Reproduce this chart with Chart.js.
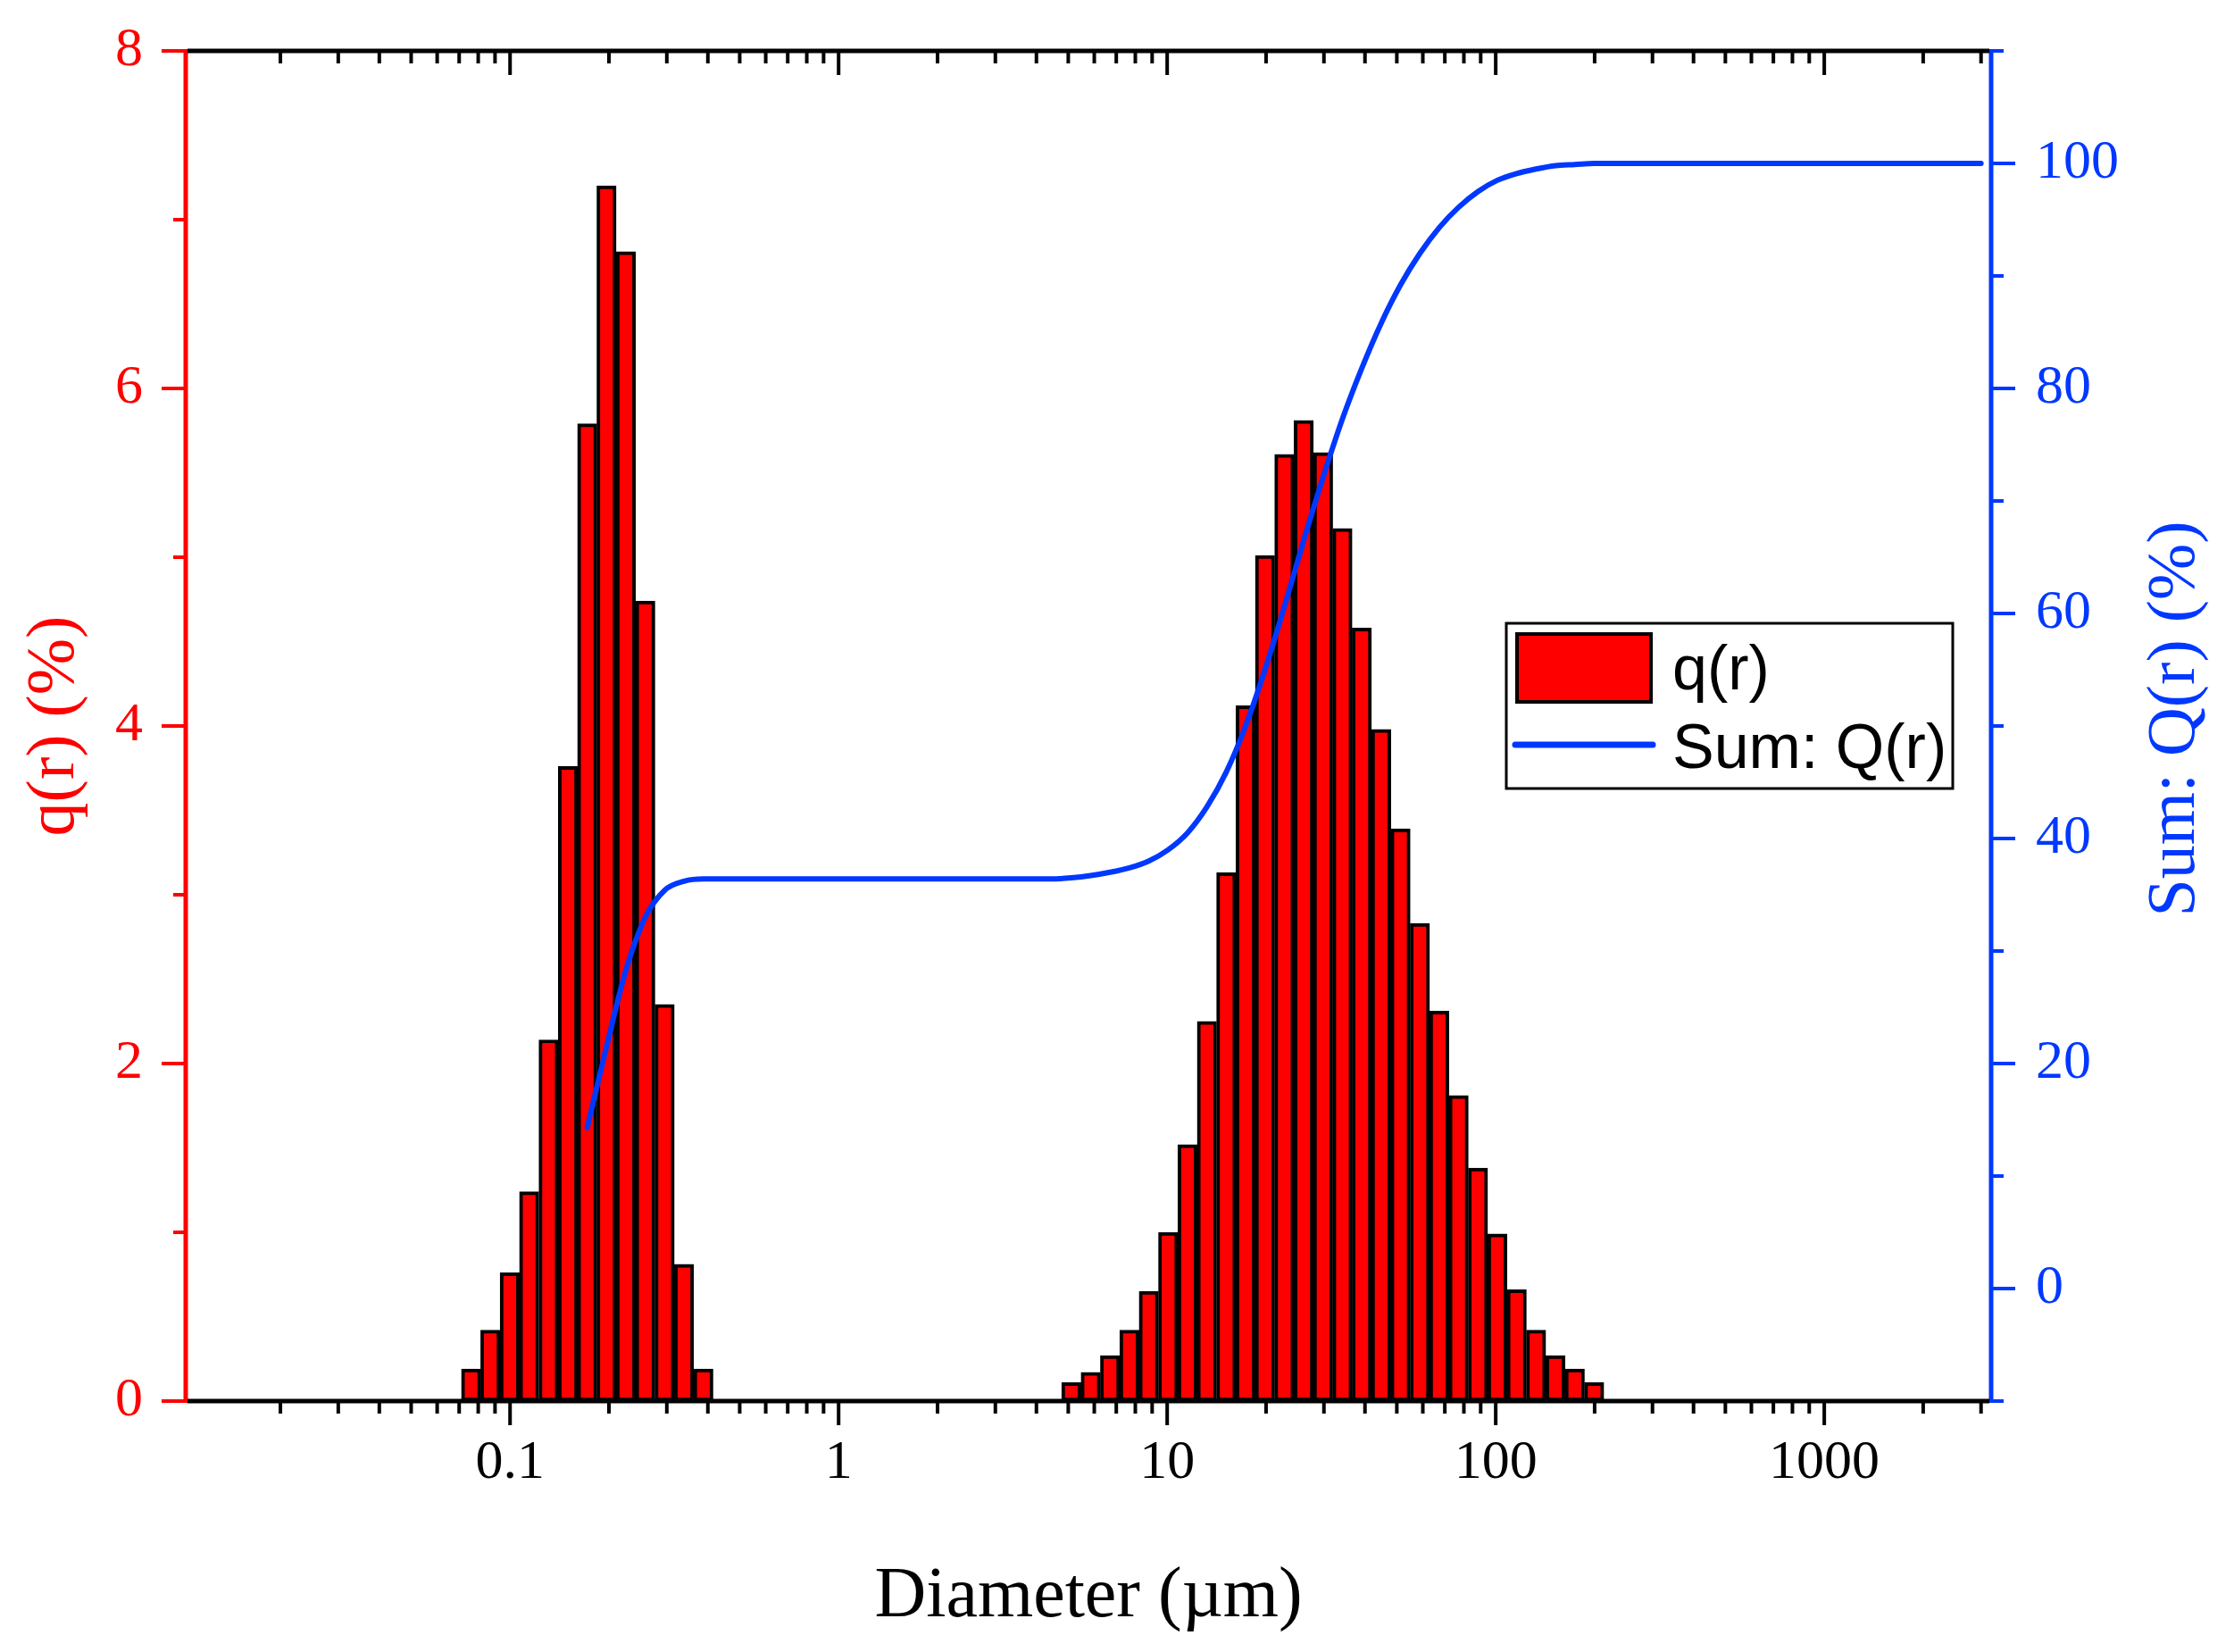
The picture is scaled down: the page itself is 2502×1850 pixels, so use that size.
<!DOCTYPE html>
<html>
<head>
<meta charset="utf-8">
<script src="https://cdn.jsdelivr.net/npm/chart.js@4.4.1/dist/chart.umd.min.js"></script>
<style>
  html, body { margin: 0; padding: 0; background: #fff; }
  canvas { display: block; }
</style>
</head>
<body>
<canvas id="psd" width="2502" height="1850"></canvas>
<script>
// channel diameters (um) of the bars and their q(r) values (%)
const qDiameters = [0.0761, 0.0871, 0.0998, 0.1143, 0.1310, 0.1500, 0.1717, 0.1966, 0.2252, 0.2580, 0.2955, 0.3384, 0.3876,
  5.1088, 5.8514, 6.7019, 7.6760, 8.7917, 10.0696, 11.5333, 13.2096, 15.1297, 17.3288,
  19.8475, 22.7324, 26.0366, 29.8211, 34.1557, 39.1202, 44.8064, 51.3192, 58.7787, 67.3224,
  77.1078, 88.3154, 101.152, 115.8548, 132.6947, 151.9822, 174.0732, 199.3752];
const qValues = [0.19, 0.42, 0.76, 1.24, 2.14, 3.76, 5.79, 7.20, 6.81, 4.74, 2.35, 0.81, 0.19,
  0.11, 0.17, 0.27, 0.42, 0.65, 1.00, 1.52, 2.25, 3.13, 4.12,
  5.01, 5.61, 5.81, 5.62, 5.17, 4.58, 3.98, 3.39, 2.83, 2.31,
  1.81, 1.38, 0.99, 0.66, 0.42, 0.27, 0.19, 0.11];

// cumulative curve Q(r)
const sumDiameters = [0.1717, 0.1966, 0.2252, 0.2580, 0.2955, 0.3384, 0.3876, 0.4440, 1.0024, 4.4605,
  5.1088, 5.8514, 6.7019, 7.6760, 8.7917, 10.0696, 11.5333, 13.2096, 15.1297, 17.3288,
  19.8475, 22.7324, 26.0366, 29.8211, 34.1557, 39.1202, 44.8064, 51.3192, 58.7787, 67.3224,
  77.1078, 88.3154, 101.152, 115.8548, 132.6947, 151.9822, 174.0732, 199.3752, 228.355, 3000];
const sumValues = [14.3, 21.5, 28.3, 33.0, 35.4, 36.2, 36.4, 36.4, 36.4, 36.4,
  36.5, 36.7, 37.0, 37.4, 38.0, 39.0, 40.5, 42.8, 45.9, 50.0,
  55.0, 60.6, 66.5, 72.1, 77.3, 81.8, 85.8, 89.2, 92.0, 94.3,
  96.1, 97.5, 98.5, 99.1, 99.5, 99.8, 99.9, 100, 100, 100];

// tick labels
const xTicks = [0.1, 1, 10, 100, 1000];
const yTicks = [0, 2, 4, 6, 8];
const y1Ticks = [0, 20, 40, 60, 80, 100];
const yMinor = [1, 3, 5, 7];
const y1Minor = [-10, 10, 30, 50, 70, 90, 110];

const RED = '#ff0000';
const BLUE = '#0038ff';
const serif = 'Liberation Serif';

// decade minor ticks 2..9
const xMinor = [];
[0.01, 0.1, 1, 10, 100, 1000].forEach(d => {
  for (let m = 2; m <= 9; m++) xMinor.push(d * m);
});

function line(ctx, x0, y0, x1, y1) {
  ctx.beginPath();
  ctx.moveTo(x0, y0);
  ctx.lineTo(x1, y1);
  ctx.stroke();
}

// keep the plot box fixed: no extra room for the end labels
function fixBox(size) {
  return s => {
    if (s.isHorizontal()) s.height = size; else s.width = size;
    s.paddingTop = 0; s.paddingBottom = 0; s.paddingLeft = 0; s.paddingRight = 0;
  };
}

const frame = {
  id: 'frame',
  afterDraw(chart) {
    const { ctx, chartArea: a, scales: { x, y, y1 } } = chart;
    const major = 27, minor = 14;
    ctx.save();
    ctx.lineCap = 'butt';
    ctx.lineWidth = 4;

    // x ticks, bottom outward and top inward
    ctx.strokeStyle = '#000';
    xMinor.forEach(v => {
      if (v < x.min || v > x.max) return;
      const px = x.getPixelForValue(v);
      line(ctx, px, a.bottom, px, a.bottom + minor);
      line(ctx, px, a.top, px, a.top + minor);
    });
    xTicks.forEach(v => {
      const px = x.getPixelForValue(v);
      line(ctx, px, a.bottom, px, a.bottom + major);
      line(ctx, px, a.top, px, a.top + major);
    });

    // left axis
    ctx.strokeStyle = RED;
    yTicks.forEach(v => { const py = y.getPixelForValue(v); line(ctx, a.left, py, a.left - major, py); });
    yMinor.forEach(v => { const py = y.getPixelForValue(v); line(ctx, a.left, py, a.left - minor, py); });
    ctx.lineWidth = 5;
    line(ctx, a.left, a.top - 2, a.left, a.bottom + 2);

    // right axis
    ctx.lineWidth = 4;
    ctx.strokeStyle = BLUE;
    y1Ticks.forEach(v => { const py = y1.getPixelForValue(v); line(ctx, a.right, py, a.right + major, py); });
    y1Minor.forEach(v => { const py = y1.getPixelForValue(v); line(ctx, a.right, py, a.right + minor, py); });
    ctx.lineWidth = 5;
    line(ctx, a.right, a.top - 2, a.right, a.bottom + 2);

    // top and bottom frame
    ctx.strokeStyle = '#000';
    line(ctx, a.left + 2, a.top, a.right - 2, a.top);
    line(ctx, a.left + 2, a.bottom, a.right - 2, a.bottom);

    // axis titles
    ctx.textAlign = 'center';
    ctx.textBaseline = 'alphabetic';
    ctx.fillStyle = '#000';
    ctx.font = '80px "' + serif + '"';
    ctx.fillText('Diameter (\u00b5m)', (a.left + a.right) / 2, 1810);

    ctx.font = '76px "' + serif + '"';
    ctx.save();
    ctx.translate(82, (a.top + a.bottom) / 2);
    ctx.rotate(-Math.PI / 2);
    ctx.fillStyle = RED;
    ctx.fillText('q(r) (%)', 0, 0);
    ctx.restore();

    ctx.save();
    ctx.translate(2457, 805);
    ctx.rotate(-Math.PI / 2);
    ctx.fillStyle = BLUE;
    ctx.fillText('Sum: Q(r) (%)', 0, 0);
    ctx.restore();

    // legend
    ctx.fillStyle = '#fff';
    ctx.fillRect(1687, 698, 500, 185);
    ctx.lineWidth = 3;
    ctx.strokeStyle = '#000';
    ctx.strokeRect(1687, 698, 500, 185);
    ctx.fillStyle = RED;
    ctx.fillRect(1699, 710, 150, 76);
    ctx.lineWidth = 4;
    ctx.strokeRect(1699, 710, 150, 76);
    ctx.strokeStyle = BLUE;
    ctx.lineWidth = 7;
    ctx.lineCap = 'round';
    line(ctx, 1697, 834, 1851, 834);
    ctx.fillStyle = '#000';
    ctx.textAlign = 'left';
    ctx.font = '70px "Liberation Sans"';
    ctx.fillText('q(r)', 1873, 772);
    ctx.fillText('Sum: Q(r)', 1873, 860);
    ctx.restore();
  }
};

const barPoints = qDiameters.map((d, i) => ({ x: d, y: qValues[i] }));
const sumPoints = sumDiameters.map((d, i) => ({ x: d, y: sumValues[i] }));

const data = {
  datasets: [{
    type: 'line',
    label: 'Sum: Q(r)',
    data: sumPoints,
    xAxisID: 'x',
    yAxisID: 'y1',
    borderColor: BLUE,
    borderWidth: 6,
    borderCapStyle: 'round',
    pointRadius: 0,
    cubicInterpolationMode: 'monotone',
    order: 0
  }, {
    type: 'bar',
    label: 'q(r)',
    data: barPoints,
    xAxisID: 'x',
    yAxisID: 'y',
    backgroundColor: RED,
    borderColor: '#000',
    borderWidth: 4,
    borderSkipped: false,
    barPercentage: 1,
    categoryPercentage: 1,
    order: 1
  }]
};

const config = {
  type: 'bar',
  data: data,
  options: {
    responsive: false,
    animation: false,
    devicePixelRatio: 1,
    layout: { padding: { top: 57, left: 0, right: 0, bottom: 0 } },
    plugins: { legend: { display: false }, tooltip: { enabled: false } },
    scales: {
      x: {
        type: 'logarithmic',
        position: 'bottom',
        min: 0.0103,
        max: 3220,
        offset: false,
        grid: { display: false, drawTicks: false },
        border: { display: false },
        afterBuildTicks: s => { s.ticks = xTicks.map(v => ({ value: v })); },
        afterFit: fixBox(281),
        ticks: {
          autoSkip: false,
          maxRotation: 0,
          padding: 33,
          color: '#000',
          font: { family: serif, size: 62 },
          callback: v => String(v)
        }
      },
      y: {
        type: 'linear',
        position: 'left',
        min: 0,
        max: 8,
        grid: { display: false, drawTicks: false },
        border: { display: false },
        afterBuildTicks: s => { s.ticks = yTicks.map(v => ({ value: v })); },
        afterFit: fixBox(208),
        ticks: { padding: 48, color: RED, font: { family: serif, size: 62 } }
      },
      y1: {
        type: 'linear',
        position: 'right',
        min: -10,
        max: 110,
        grid: { display: false, drawTicks: false },
        border: { display: false },
        afterBuildTicks: s => { s.ticks = y1Ticks.map(v => ({ value: v })); },
        afterFit: fixBox(272),
        ticks: { padding: 50, color: BLUE, font: { family: serif, size: 62 } }
      }
    }
  },
  plugins: [frame]
};

const psdChart = new Chart(document.getElementById('psd'), config);
</script>
</body>
</html>
